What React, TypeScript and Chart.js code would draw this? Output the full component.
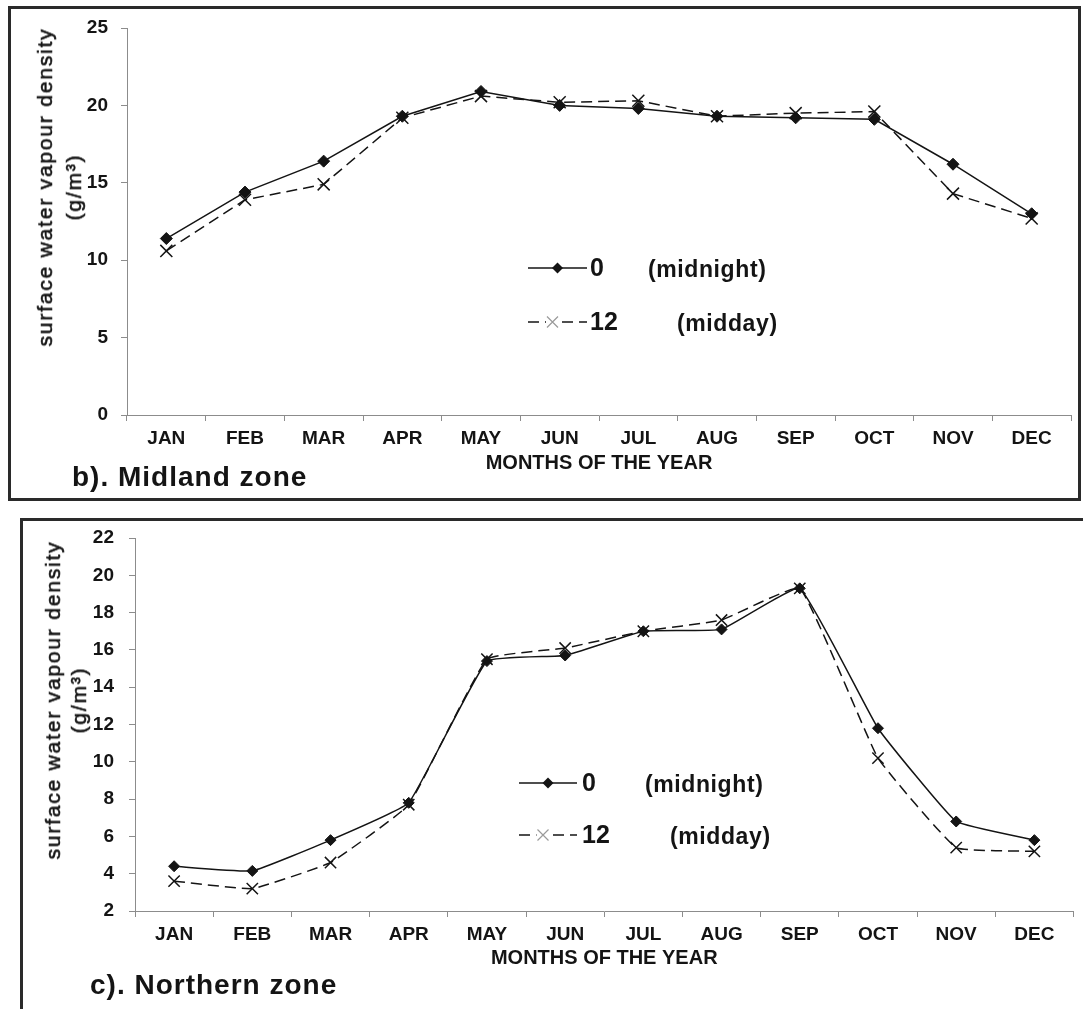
import React, { useEffect, useRef } from 'react';
import { Chart, registerables } from 'chart.js';

Chart.register(...registerables);

// ---------- data ----------
const months = ['JAN', 'FEB', 'MAR', 'APR', 'MAY', 'JUN', 'JUL', 'AUG', 'SEP', 'OCT', 'NOV', 'DEC'];
const seriesNames = ['0', '12'];
const seriesNotes = ['(midnight)', '(midday)'];

const midlandMidnight = [11.4, 14.4, 16.4, 19.3, 20.9, 20.0, 19.8, 19.3, 19.2, 19.1, 16.2, 13.0];
const midlandMidday = [10.6, 13.9, 14.9, 19.2, 20.6, 20.2, 20.3, 19.3, 19.5, 19.6, 14.3, 12.7];
const midlandYTicks = [0, 5, 10, 15, 20, 25];

const northernMidnight = [4.4, 4.15, 5.8, 7.8, 15.4, 15.7, 17.0, 17.1, 19.3, 11.8, 6.8, 5.8];
const northernMidday = [3.6, 3.2, 4.6, 7.7, 15.5, 16.1, 17.0, 17.6, 19.3, 10.2, 5.4, 5.2];
const northernYTicks = [2, 4, 6, 8, 10, 12, 14, 16, 18, 20, 22];

const xTitle = 'MONTHS OF THE YEAR';
const yTitle = ['surface water vapour density', '(g/m\u00B3)'];
const panelTitles = ['b). Midland zone', 'c). Northern zone'];

// ---------- styling ----------
const FONT = "'Liberation Sans', Arial, sans-serif";
const INK = '#141414';
const AXIS = '#8c8c8c';

const legendPlugin = {
  id: 'zoneLegend',
  afterDatasetsDraw(chart: any, _args: any, opts: any) {
    const { ctx } = chart;
    const dsets = chart.data.datasets;
    opts.rows.forEach((row: any, i: number) => {
      const ds = dsets[i];
      ctx.save();
      ctx.strokeStyle = INK;
      ctx.lineWidth = 1.5;
      ctx.setLineDash(ds.borderDash || []);
      ctx.beginPath();
      ctx.moveTo(opts.x0, row.y);
      ctx.lineTo(opts.x1, row.y);
      ctx.stroke();
      ctx.setLineDash([]);
      const mx = (opts.x0 + opts.x1) / 2 - (i === 1 ? 5 : 0);
      if (ds.pointStyle === 'rectRot') {
        const r = 5.5;
        ctx.fillStyle = INK;
        ctx.beginPath();
        ctx.moveTo(mx - r, row.y);
        ctx.lineTo(mx, row.y - r);
        ctx.lineTo(mx + r, row.y);
        ctx.lineTo(mx, row.y + r);
        ctx.closePath();
        ctx.fill();
      } else {
        const r = 5.5;
        ctx.fillStyle = '#fff';
        ctx.fillRect(mx - r - 1, row.y - r - 1, 2 * r + 2, 2 * r + 2);
        ctx.strokeStyle = '#9a9a9a';
        ctx.lineWidth = 1.2;
        ctx.beginPath();
        ctx.moveTo(mx - r, row.y - r);
        ctx.lineTo(mx + r, row.y + r);
        ctx.moveTo(mx + r, row.y - r);
        ctx.lineTo(mx - r, row.y + r);
        ctx.stroke();
      }
      ctx.fillStyle = INK;
      ctx.textBaseline = 'middle';
      ctx.textAlign = 'left';
      ctx.font = `bold 25px ${FONT}`;
      ctx.fillText(ds.label, opts.numX, row.y + 1);
      ctx.font = `bold 23px ${FONT}`;
      (ctx as any).letterSpacing = '0.6px';
      ctx.fillText(row.note, row.noteX, row.y + 3);
      ctx.restore();
    });
  },
};

interface PanelSpec {
  midnight: number[];
  midday: number[];
  yTicks: number[];
  width: number;
  height: number;
  padding: { left: number; right: number; top: number; bottom: number };
  yWidth: number;
  xHeight: number;
  yPad: number;
  tension: number;
  diamondR: number;
  crossR: number;
  legend: any;
}

function makeConfig(p: PanelSpec): any {
  const tickFont = { family: FONT, size: 19, weight: 'bold' as const };
  return {
    type: 'line',
    data: {
      labels: months,
      datasets: [
        {
          label: seriesNames[0],
          data: p.midnight,
          borderColor: INK,
          backgroundColor: INK,
          borderWidth: 1.5,
          pointStyle: 'rectRot',
          pointRadius: p.diamondR,
          pointBackgroundColor: INK,
          pointBorderColor: INK,
          pointBorderWidth: 1,
          tension: p.tension,
          fill: false,
          order: 2,
        },
        {
          label: seriesNames[1],
          data: p.midday,
          borderColor: INK,
          backgroundColor: 'transparent',
          borderWidth: 1.5,
          borderDash: [11, 6],
          pointStyle: 'crossRot',
          pointRadius: p.crossR,
          pointBorderColor: INK,
          pointBorderWidth: 1.5,
          tension: p.tension,
          fill: false,
          order: 1,
        },
      ],
    },
    options: {
      animation: false,
      responsive: false,
      devicePixelRatio: 1,
      layout: { padding: p.padding },
      plugins: {
        legend: { display: false },
        tooltip: { enabled: false },
        zoneLegend: p.legend,
      },
      scales: {
        x: {
          offset: true,
          grid: {
            offset: true,
            drawOnChartArea: false,
            drawTicks: true,
            tickLength: 6,
            color: AXIS,
            lineWidth: 1,
          },
          border: { display: true, color: AXIS, width: 1 },
          ticks: { font: tickFont, color: INK, padding: 6, maxRotation: 0, autoSkip: false },
          title: {
            display: true,
            text: xTitle,
            font: { family: FONT, size: 20, weight: 'bold' },
            color: INK,
            padding: { top: 0, bottom: 0 },
          },
          afterFit: (s: any) => {
            s.height = p.xHeight;
          },
        },
        y: {
          min: p.yTicks[0],
          max: p.yTicks[p.yTicks.length - 1],
          ticks: { stepSize: p.yTicks[1] - p.yTicks[0], font: tickFont, color: INK, padding: p.yPad },
          grid: { drawOnChartArea: false, drawTicks: true, tickLength: 6, color: AXIS, lineWidth: 1 },
          border: { display: true, color: AXIS, width: 1 },
          afterFit: (s: any) => {
            s.width = p.yWidth;
          },
        },
      },
    },
    plugins: [legendPlugin],
  };
}

const topSpec: PanelSpec = {
  midnight: midlandMidnight,
  midday: midlandMidday,
  yTicks: midlandYTicks,
  width: 1083,
  height: 505,
  padding: { left: 60, right: 12, top: 28, bottom: 30 },
  yWidth: 67,
  xHeight: 60,
  yPad: 13,
  tension: 0,
  diamondR: 6,
  crossR: 8.5,
  legend: {
    x0: 528,
    x1: 587,
    numX: 590,
    rows: [
      { y: 268, note: seriesNotes[0], noteX: 648 },
      { y: 322, note: seriesNotes[1], noteX: 677 },
    ],
  },
};

const bottomSpec: PanelSpec = {
  midnight: northernMidnight,
  midday: northernMidday,
  yTicks: northernYTicks,
  width: 1083,
  height: 504,
  padding: { left: 60, right: 6, top: 33, bottom: 39 },
  yWidth: 75,
  xHeight: 59,
  yPad: 15,
  tension: 0.1,
  diamondR: 5.5,
  crossR: 8,
  legend: {
    x0: 519,
    x1: 577,
    numX: 582,
    rows: [
      { y: 278, note: seriesNotes[0], noteX: 645 },
      { y: 330, note: seriesNotes[1], noteX: 670 },
    ],
  },
};

function ChartCanvas({ spec, top }: { spec: PanelSpec; top: number }) {
  const ref = useRef<HTMLCanvasElement | null>(null);
  useEffect(() => {
    if (!ref.current) return;
    const chart = new Chart(ref.current, makeConfig(spec));
    return () => chart.destroy();
  }, [spec]);
  return (
    <canvas
      ref={ref}
      width={spec.width}
      height={spec.height}
      style={{ position: 'absolute', left: 0, top, width: spec.width, height: spec.height }}
    />
  );
}

function YTitle({ cx, cy, lineHeight }: { cx: number; cy: number; lineHeight: number }) {
  return (
    <div
      style={{
        position: 'absolute',
        left: cx,
        top: cy,
        transform: 'translate(-50%, -50%) rotate(-90deg)',
        fontFamily: FONT,
        fontSize: 21,
        letterSpacing: '1.8px',
        WebkitTextStroke: `0.6px ${INK}`,
        lineHeight: `${lineHeight}px`,
        color: INK,
        textAlign: 'center',
        whiteSpace: 'nowrap',
      }}
    >
      {yTitle.map((t, i) => (
        <div key={i}>{t}</div>
      ))}
    </div>
  );
}

function PanelTitle({ text, x, cy }: { text: string; x: number; cy: number }) {
  return (
    <div
      style={{
        position: 'absolute',
        left: x,
        top: cy,
        transform: 'translateY(-50%)',
        fontFamily: FONT,
        fontWeight: 'bold',
        fontSize: 28,
        letterSpacing: '1px',
        lineHeight: '32px',
        color: INK,
        whiteSpace: 'nowrap',
      }}
    >
      {text}
    </div>
  );
}

export default function App() {
  return (
    <div
      style={{
        position: 'absolute',
        left: 0,
        top: 0,
        width: 1083,
        height: 1009,
        overflow: 'hidden',
        background: '#fff',
      }}
    >
      <div
        style={{
          position: 'absolute',
          left: 8,
          top: 6,
          width: 1073,
          height: 495,
          border: '3px solid #2a2a2a',
          boxSizing: 'border-box',
        }}
      />
      <div
        style={{
          position: 'absolute',
          left: 20,
          top: 518,
          width: 1100,
          height: 600,
          border: '3px solid #2a2a2a',
          boxSizing: 'border-box',
        }}
      />
      <ChartCanvas spec={topSpec} top={0} />
      <ChartCanvas spec={bottomSpec} top={505} />
      <YTitle cx={59} cy={187} lineHeight={29} />
      <YTitle cx={66} cy={700} lineHeight={26} />
      <PanelTitle text={panelTitles[0]} x={72} cy={477} />
      <PanelTitle text={panelTitles[1]} x={90} cy={985} />
    </div>
  );
}
